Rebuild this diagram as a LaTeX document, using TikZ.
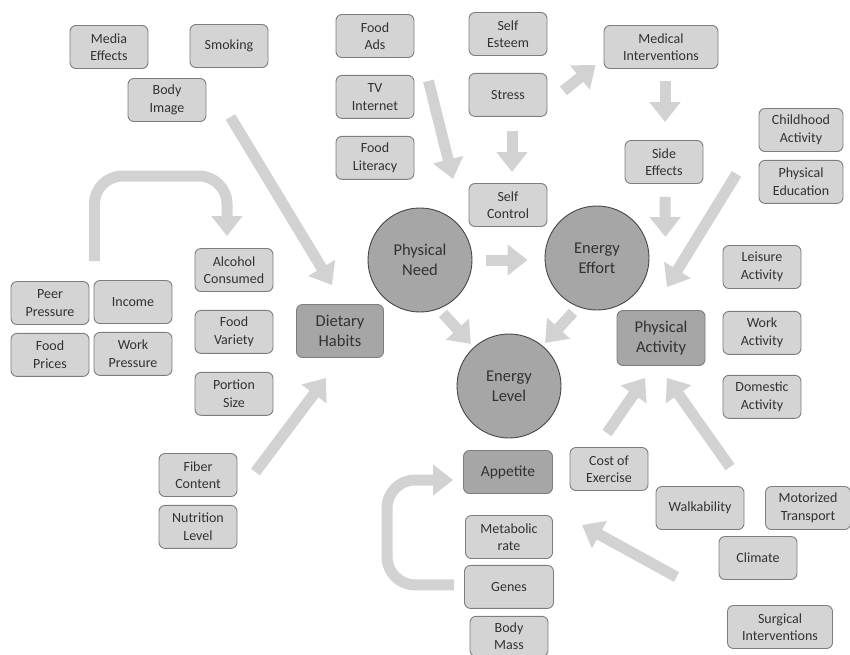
\documentclass[tikz,border=0pt]{standalone}
\usepackage{fontspec}
\setmainfont{Carlito}
\usetikzlibrary{arrows.meta, positioning}
\definecolor{boxGray}{RGB}{212,212,212}
\definecolor{edgeGray}{RGB}{125,125,125}
\definecolor{coreGray}{RGB}{166,166,166}
\definecolor{rimGray}{RGB}{70,70,70}
\definecolor{flowGray}{RGB}{210,210,210}
\definecolor{inkGray}{RGB}{50,50,50}

\begin{document}
\begin{tikzpicture}[
    x=1pt, y=-1pt, % pixel-like grid, y grows downwards
    node distance=8pt,
    % --- Node Styles ---
    factor/.style={
        rectangle,
        rounded corners=6pt,
        minimum width=78pt,
        minimum height=43pt,
        inner sep=1pt,
        align=center,
        font=\fontsize{14}{17.5}\selectfont,
        text=inkGray,
        draw=edgeGray,
        line width=0.9pt,
        fill=boxGray
    },
    habit/.style={factor, fill=coreGray, minimum width=87pt, minimum height=53pt, font=\fontsize{16.5}{20}\selectfont},
    hub/.style={circle, minimum size=104pt, inner sep=0pt, align=center, font=\fontsize{16.5}{20}\selectfont,
        text=inkGray, fill=coreGray, draw=rimGray, line width=0.9pt},
    flow/.style={draw=flowGray, line width=11pt, -{Triangle[length=20pt, width=30pt]}},
    bendflow/.style={flow, rounded corners=28pt}
]
    \useasboundingbox (0,0) rectangle (850,654);

    % --- Top left ---
    \node (media) [factor] at (109,47) {Media\\Effects};
    \node (smoking) [factor] at (229,46) {Smoking};
    \node (bodyimg) [factor] at (167,100) {Body\\Image};

    % --- Top middle ---
    \node (foodads) [factor] at (375,36) {Food\\Ads};
    \node (tvnet) [factor, below=17pt of foodads] {TV\\Internet};
    \node (foodlit) [factor, below=17pt of tvnet] {Food\\Literacy};
    \node (selfest) [factor] at (508,34) {Self\\Esteem};
    \node (stress) [factor, below=17pt of selfest] {Stress};
    \node (selfctrl) [factor] at (508,205) {Self\\Control};

    % --- Top right ---
    \node (medical) [factor, minimum width=114pt] at (661,47) {Medical\\Interventions};
    \node (side) [factor] at (664,162) {Side\\Effects};
    \node (child) [factor, minimum width=84pt] at (801,130) {Childhood\\Activity};
    \node (physed) [factor, minimum width=84pt, below=of child] {Physical\\Education};

    % --- Left column ---
    \node (peer) [factor] at (50,303) {Peer\\Pressure};
    \node (income) [factor] at (133,302) {Income};
    \node (prices) [factor, below=of peer] {Food\\Prices};
    \node (workpr) [factor, below=of income] {Work\\Pressure};
    \node (alcohol) [factor] at (234,270) {Alcohol\\Consumed};
    \node (variety) [factor, below=18pt of alcohol] {Food\\Variety};
    \node (portion) [factor, below=18pt of variety] {Portion\\Size};
    \node (fiber) [factor] at (198,475) {Fiber\\Content};
    \node (nutrition) [factor, below=of fiber] {Nutrition\\Level};

    % --- Core ---
    \node (diet) [habit] at (340,331) {Dietary\\Habits};
    \node (physneed) [hub] at (420,260) {Physical\\Need};
    \node (effort) [hub] at (597,258) {Energy\\Effort};
    \node (level) [hub] at (509,386) {Energy\\Level};
    \node (physact) [habit, minimum width=88pt, minimum height=55pt] at (661,338) {Physical\\Activity};

    % --- Right column ---
    \node (leisure) [factor] at (762,267) {Leisure\\Activity};
    \node (workact) [factor, below=22pt of leisure] {Work\\Activity};
    \node (domestic) [factor, below=20pt of workact] {Domestic\\Activity};

    % --- Bottom ---
    \node (appetite) [habit, minimum width=89pt, minimum height=43pt, font=\fontsize{15.5}{19}\selectfont] at (508,472) {Appetite};
    \node (cost) [factor] at (609,469) {Cost of\\Exercise};
    \node (metab) [factor, minimum width=87pt] at (509,537) {Metabolic\\rate};
    \node (genes) [factor, minimum width=89pt, below=6pt of metab] {Genes};
    \node (bodymass) [factor, minimum height=40pt, below=7pt of genes] {Body\\Mass};
    \node (walk) [factor, minimum width=88pt] at (700,508) {Walkability};
    \node (motor) [factor, minimum width=85pt] at (808,508) {Motorized\\Transport};
    \node (climate) [factor] at (758,558) {Climate};
    \node (surgical) [factor, minimum width=105pt] at (780,627) {Surgical\\Interventions};

    % --- Arrows ---
    \draw [flow] ([shift={(24,17)}]bodyimg.east) -- ([shift={(-8,-19)}]diet.north);
    \draw [bendflow] ([shift={(5,-20)}]peer.north east) -- ++(0,-85) -| ([shift={(-7,-12)}]alcohol.north);
    \draw [flow] ([shift={(18,-3)}]fiber.east) -- ([shift={(-14,20)}]diet.south);
    \draw [flow] ([shift={(14,-16)}]tvnet.east) -- ([shift={(-55,-4)}]selfctrl.north);
    \draw [flow] ([shift={(4,14)}]stress.south) -- ([shift={(4,-11)}]selfctrl.north);
    \draw [flow] ([shift={(16,-4)}]stress.east) -- ([shift={(-8,18)}]medical.west);
    \draw [flow] ([shift={(4,12)}]medical.south) -- ([shift={(1,-18)}]side.north);
    \draw [flow] ([shift={(1,13)}]side.south) -- ([shift={(16,-21)}]effort.east);
    \draw [flow] ([shift={(-22,-8)}]physed.west) -- ([shift={(6,-23)}]physact.north);
    \draw [flow] ([shift={(14,0)}]physneed.east) -- ([shift={(-17,2)}]effort.west);
    \draw [flow] ([shift={(23,1)}]physneed.south) -- ([shift={(-1,-5)}]level.north west);
    \draw [flow] ([shift={(-24,2)}]effort.south) -- ([shift={(-1,-6)}]level.north east);
    \draw [flow] ([shift={(-2,-14)}]cost.north) -- ([shift={(-16,12)}]physact.south);
    \draw [flow] ([shift={(30,-19)}]walk.north) -- ([shift={(6,12)}]physact.south);
    \draw [flow] ([shift={(-42,19)}]climate.west) -- ([shift={(29,-12)}]metab.east);
    \draw [bendflow] ([shift={(-10,-2)}]genes.west) -- ++(-67,0) |- ([shift={(-10,8)}]appetite.west);

\end{tikzpicture}
\end{document}
